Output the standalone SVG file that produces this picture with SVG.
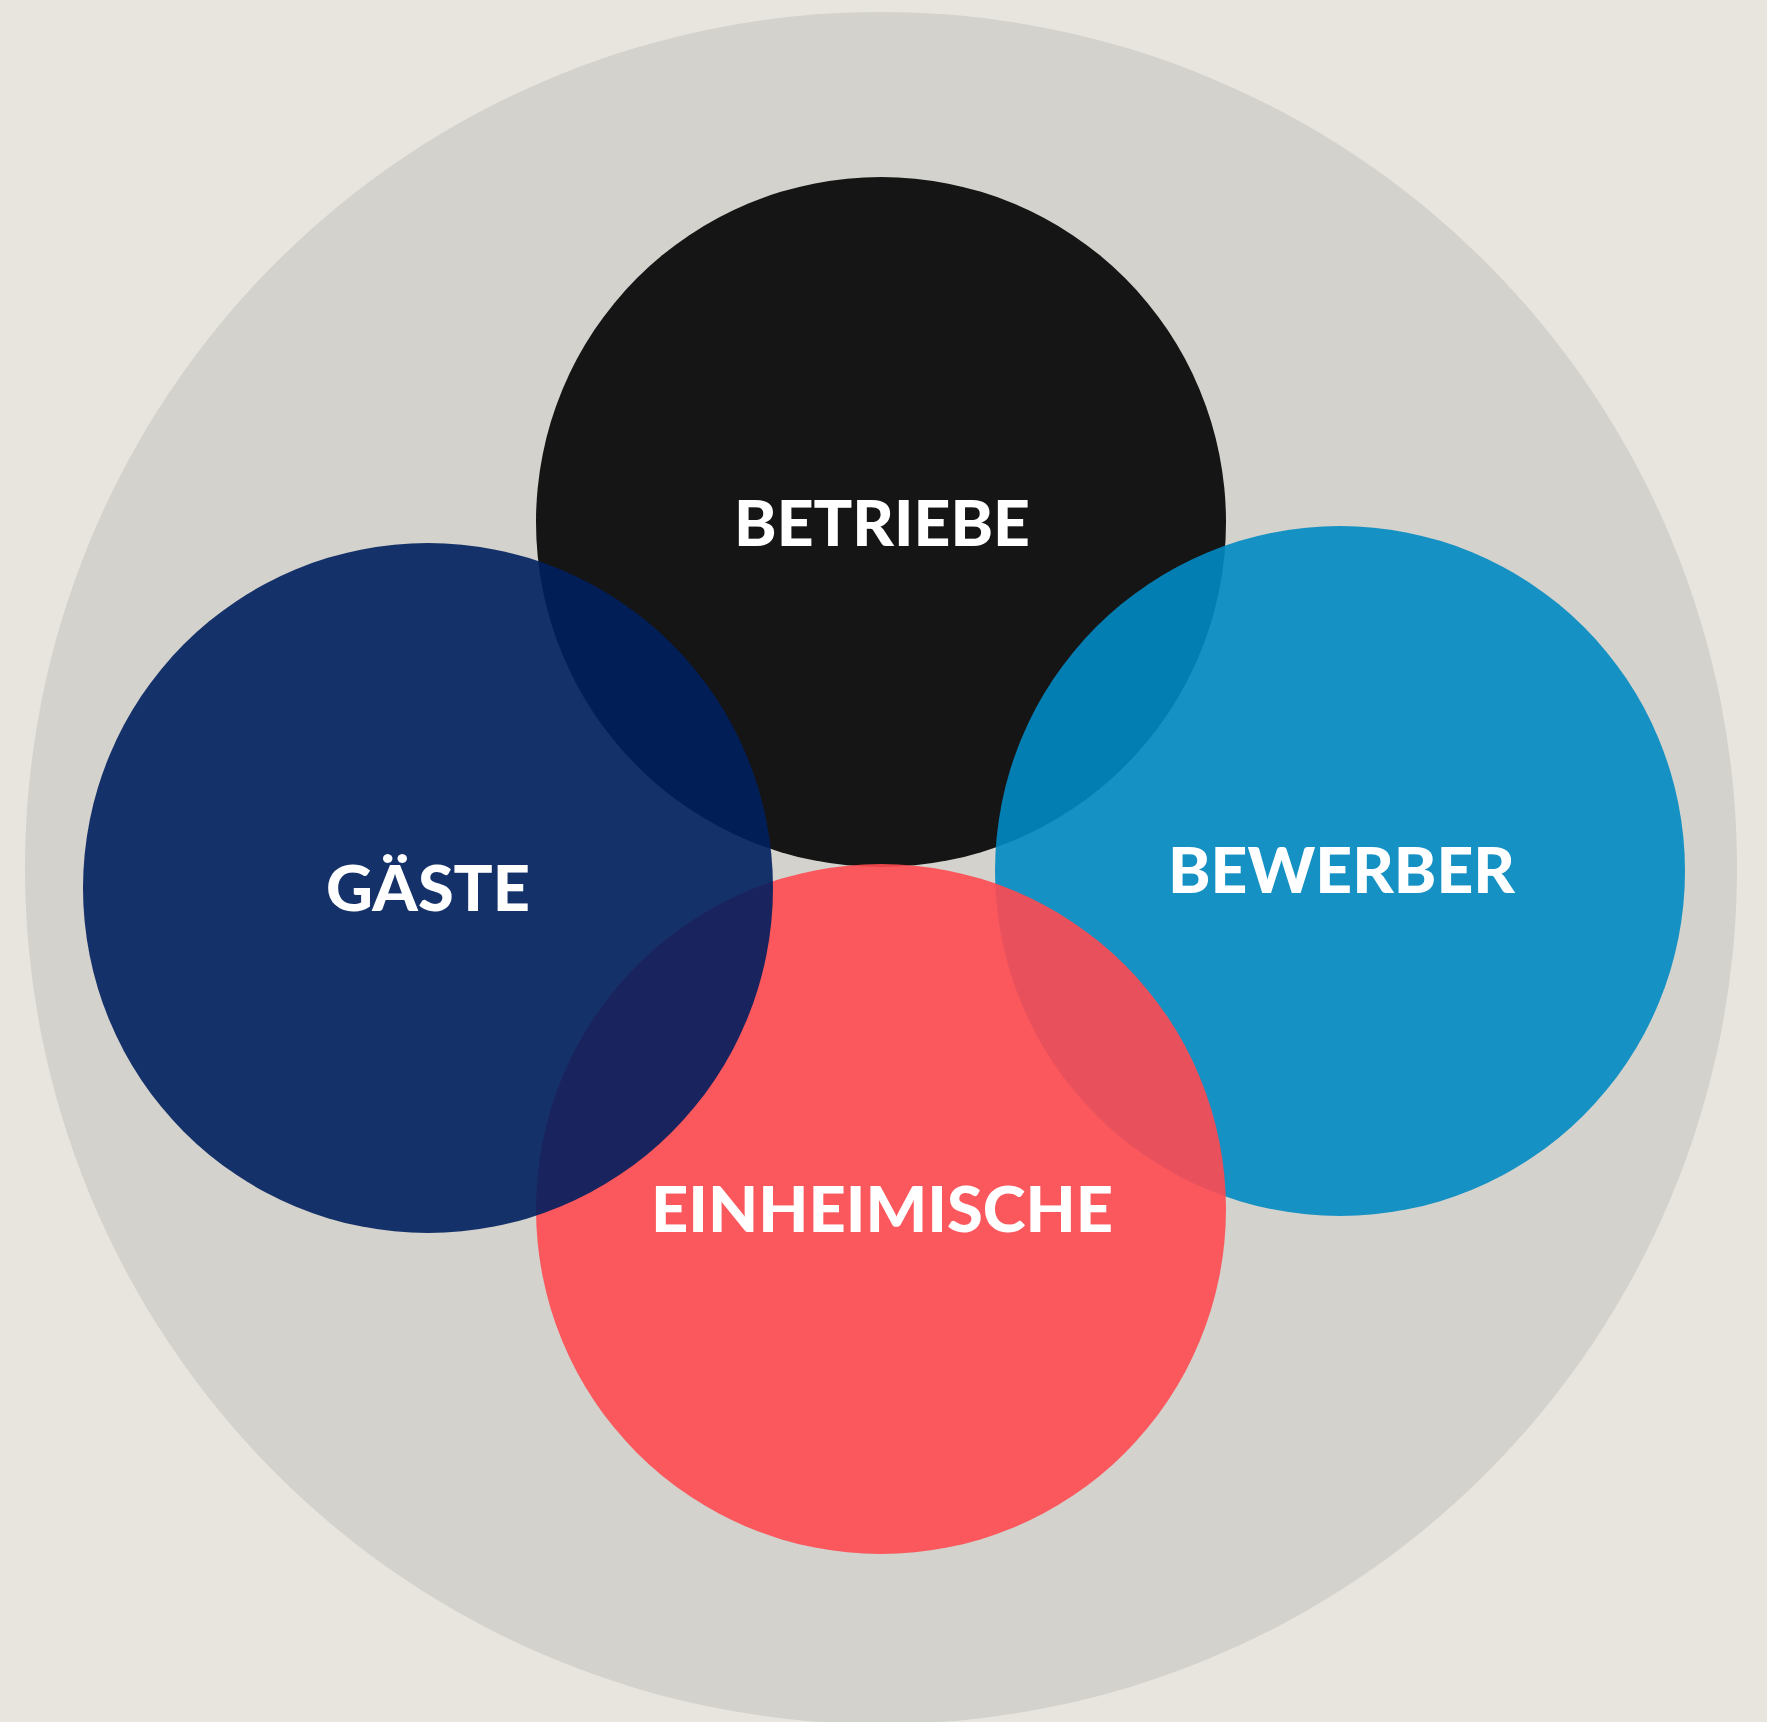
<svg xmlns="http://www.w3.org/2000/svg" width="1767" height="1722" viewBox="0 0 1767 1722">
<style>
.lbl{font-family:Lato,"Liberation Sans",sans-serif;font-weight:900;font-size:62px;fill:#ffffff;text-anchor:middle}
</style>
<rect x="0" y="0" width="1767" height="1722" fill="#e8e5de"/>
<circle cx="881" cy="868" r="856" fill="#d3d2cd"/>
<g id="betriebe">
<circle cx="881" cy="522" r="345" fill="#151515"/>
<text class="lbl" x="882" y="546" textLength="296" lengthAdjust="spacingAndGlyphs">BETRIEBE</text>
</g>
<g id="bewerber">
<circle cx="1340" cy="871" r="345" fill="#0089c3" fill-opacity="0.9"/>
<text class="lbl" x="1341.5" y="893" textLength="347" lengthAdjust="spacingAndGlyphs">BEWERBER</text>
</g>
<g id="einheimische">
<circle cx="881" cy="1209" r="345" fill="#ff4a51" fill-opacity="0.9"/>
<text class="lbl" x="882" y="1232" textLength="462" lengthAdjust="spacingAndGlyphs">EINHEIMISCHE</text>
</g>
<g id="gaeste">
<circle cx="428" cy="888" r="345" fill="#001f5e" fill-opacity="0.9"/>
<text class="lbl" x="428" y="911" textLength="204" lengthAdjust="spacingAndGlyphs">GÄSTE</text>
</g>
<g id="connectors"/>
</svg>
